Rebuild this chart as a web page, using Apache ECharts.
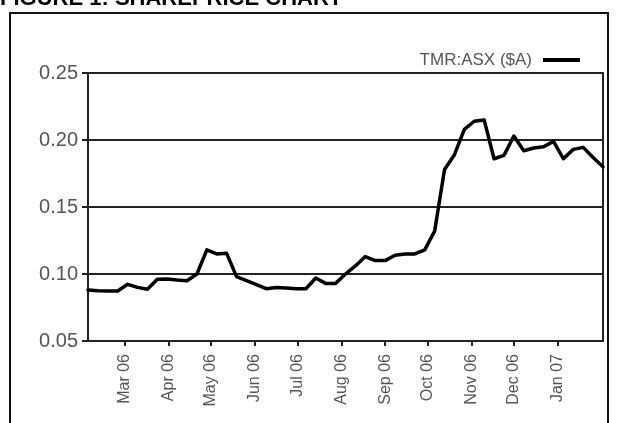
<!DOCTYPE html>
<html>
<head>
<meta charset="utf-8">
<script src="https://cdn.jsdelivr.net/npm/echarts@6/dist/echarts.min.js"></script>
<style>
html,body{margin:0;padding:0;background:#fff;}
#c{width:617px;height:423px;}
</style>
</head>
<body>
<div id="c"></div>
<script>
const titleText = 'FIGURE 1: SHAREPRICE CHART';
const seriesName = 'TMR:ASX ($A)';
const dates = ['2006-02-03','2006-02-10','2006-02-17','2006-02-24','2006-03-03','2006-03-10','2006-03-17','2006-03-24','2006-03-31','2006-04-07','2006-04-14','2006-04-21','2006-04-28','2006-05-05','2006-05-12','2006-05-19','2006-05-26','2006-06-02','2006-06-09','2006-06-16','2006-06-23','2006-06-30','2006-07-07','2006-07-14','2006-07-21','2006-07-28','2006-08-04','2006-08-11','2006-08-18','2006-08-25','2006-09-01','2006-09-08','2006-09-15','2006-09-22','2006-09-29','2006-10-06','2006-10-13','2006-10-20','2006-10-27','2006-11-03','2006-11-10','2006-11-17','2006-11-24','2006-12-01','2006-12-08','2006-12-15','2006-12-22','2006-12-29','2007-01-05','2007-01-12','2007-01-19','2007-01-26','2007-02-02'];
const prices = [0.088,0.0875,0.0873,0.0873,0.0923,0.090,0.0886,0.096,0.0962,0.0955,0.095,0.100,0.118,0.115,0.1154,0.098,0.095,0.092,0.089,0.090,0.0895,0.089,0.089,0.097,0.093,0.093,0.100,0.106,0.113,0.110,0.110,0.114,0.115,0.115,0.118,0.132,0.178,0.189,0.208,0.214,0.215,0.186,0.1885,0.203,0.192,0.194,0.195,0.199,0.186,0.193,0.1945,0.187,0.180];
const tickDates = ['2006-03-01','2006-04-01','2006-05-01','2006-06-01','2006-07-01','2006-08-01','2006-09-01','2006-10-01','2006-11-01','2006-12-01','2007-01-01'];
const tickLabels = ['Mar 06','Apr 06','May 06','Jun 06','Jul 06','Aug 06','Sep 06','Oct 06','Nov 06','Dec 06','Jan 07'];
const yTicks = [0.05,0.10,0.15,0.20,0.25];

function ts(s){ const p = s.split('-').map(Number); return Date.UTC(p[0], p[1]-1, p[2]); }
const tickTs = tickDates.map(ts);
const data = dates.map((d,i)=>[ts(d), prices[i]]);

const chart = echarts.init(document.getElementById('c'), null, {renderer:'canvas'});
chart.setOption({
  animation:false,
  backgroundColor:'#fff',
  textStyle:{fontFamily:'Liberation Sans, Arial, sans-serif'},
  graphic:[
    {type:'rect', shape:{x:10,y:13,width:598,height:440}, style:{fill:'none',stroke:'#111',lineWidth:2}, z:-1, silent:true},
    {type:'text', x:0, y:10, style:{text:titleText, fill:'#000', font:'bold 22px "Liberation Sans", Arial, sans-serif', verticalAlign:'bottom', align:'left'}}
  ],
  legend:{
    right:32, top:45, align:'right', icon:'rect', itemWidth:37, itemHeight:4,
    textStyle:{fontSize:17, color:'#555', padding:[0,6,0,0], lineHeight:20},
    data:[seriesName]
  },
  grid:{left:88, right:14, top:73, bottom:82, show:true, borderColor:'#222', borderWidth:2, outerBoundsMode:'none'},
  xAxis:{
    type:'value',
    min:ts(dates[0]), max:ts(dates[dates.length-1]),
    axisLine:{show:true, lineStyle:{color:'#222', width:2}},
    axisTick:{show:true, length:5, customValues:tickTs, lineStyle:{color:'#222', width:2}},
    axisLabel:{
      customValues:tickTs, rotate:90, fontSize:16, color:'#555', margin:13,
      formatter:function(v){ const i = tickTs.indexOf(v); return i>=0 ? tickLabels[i] : ''; }
    },
    splitLine:{show:false}
  },
  yAxis:{
    type:'value', min:yTicks[0], max:yTicks[yTicks.length-1], interval:0.05,
    axisLine:{show:true, lineStyle:{color:'#222', width:2}},
    axisTick:{show:true, length:6, lineStyle:{color:'#222', width:2}},
    axisLabel:{fontSize:20, color:'#555', margin:10, formatter:v=>v.toFixed(2)},
    splitLine:{show:true, lineStyle:{color:'#222', width:2}}
  },
  series:[{
    name:seriesName, type:'line', data:data, showSymbol:false, smooth:false,
    itemStyle:{color:'#000'},
    lineStyle:{color:'#000', width:3.5, join:'round', cap:'round'}
  }]
});
</script>
</body>
</html>
